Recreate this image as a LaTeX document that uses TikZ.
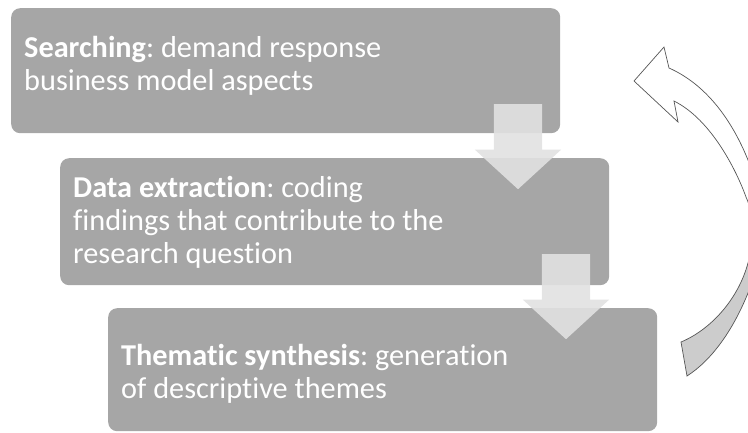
\documentclass[tikz,border=0pt]{standalone}
\usepackage{fontspec}
\setmainfont[Ligatures=NoCommon]{Carlito}
\usetikzlibrary{shapes.arrows}
\definecolor{boxgray}{RGB}{166,166,166}
\definecolor{flowgray}{RGB}{225,225,225}
\definecolor{loopgray}{RGB}{204,204,204}
\definecolor{linegray}{RGB}{85,85,85}
\frenchspacing

\begin{document}
\begin{tikzpicture}[x=1pt,y=-1pt,
    stepbox/.style={fill=boxgray,rounded corners=9pt,anchor=north west,minimum width=549pt,inner sep=0pt},
    steptext/.style={text=white,align=left,inner sep=0pt,anchor=west,font=\fontsize{30.3}{33}\selectfont},
    flowarrow/.style={single arrow,shape border rotate=270,fill=flowgray,fill opacity=.9,inner sep=24pt,
        minimum height=85pt,single arrow head extend=19pt,single arrow tip angle=95,anchor=tail},
    looparrow/.style={draw=linegray,line width=.7pt,fill=white,
        path picture={\fill[loopgray] (600,235) rectangle (800,440);}}]
    \useasboundingbox (0,0) rectangle (748,432);
    \clip (0,0) rectangle (748,432);

    \node[stepbox,minimum height=125pt] (a) at (11,8) {};
    \node[stepbox,minimum height=127pt] (b) at (60,158) {};
    \node[stepbox,minimum height=123pt] (c) at (108,308) {};

    \node[steptext] (ta) at ([xshift=13pt,yshift=5pt]a.west) {\textbf{Searching}: demand response\\business model aspects};
    \node[steptext] (tb) at ([xshift=13pt,yshift=-1pt]b.west) {\textbf{Data extraction}: coding\\findings that contribute to the\\research question};
    \node[steptext] (tc) at ([xshift=13pt,yshift=-4pt]c.west) {\textbf{Thematic synthesis}: generation\\of descriptive themes};

    \node[flowarrow] (ab) at (518,104) {};
    \node[flowarrow] (bc) at (566,254) {};

    % loop back from synthesis to searching
    \draw[looparrow] (674,101) -- (678,122) -- (634,81) -- (664,47) -- (669,68)
        .. controls (705,84) and (731,118) .. (748,160)
        .. controls (762,195) and (764,255) .. (748,293)
        .. controls (733,330) and (712,360) .. (687,376)
        -- (681,342)
        .. controls (710,330) and (738,300) .. (748,263)
        .. controls (756,235) and (754,215) .. (746,197)
        .. controls (737,172) and (712,120) .. (674,101) -- cycle;
\end{tikzpicture}
\end{document}
